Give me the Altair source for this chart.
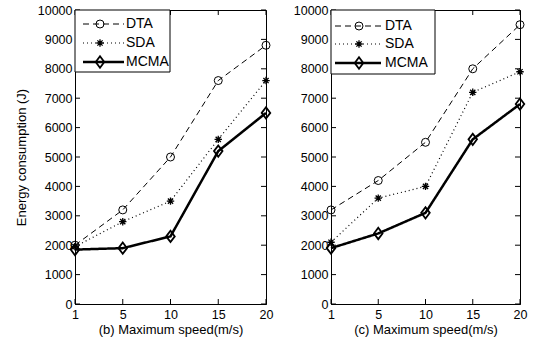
import altair as alt
import pandas as pd

speeds = [1, 5, 10, 15, 20]
series_names = ["DTA", "SDA", "MCMA"]

b_dta = [2000, 3200, 5000, 7600, 8800]
b_sda = [1950, 2800, 3500, 5600, 7600]
b_mcma = [1850, 1900, 2300, 5200, 6500]

c_dta = [3200, 4200, 5500, 8000, 9500]
c_sda = [2100, 3600, 4000, 7200, 7900]
c_mcma = [1900, 2400, 3100, 5600, 6800]

y_ticks = [0, 1000, 2000, 3000, 4000, 5000, 6000, 7000, 8000, 9000, 10000]

FONT = "Arial"
ASTERISK = "M -1 0 L 1 0 M 0 -1 L 0 1 M -0.7 -0.7 L 0.7 0.7 M -0.7 0.7 L 0.7 -0.7"
DIAMOND = "M -0.75 0 L 0 -1 L 0.75 0 L 0 1 Z"

STYLE = {
    "DTA": dict(dash=[6, 4], width=1, shape="circle", size=64, sw=1),
    "SDA": dict(dash=[1, 3], width=1.2, shape=ASTERISK, size=55, sw=1.3),
    "MCMA": dict(dash=[1, 0], width=2.5, shape=DIAMOND, size=130, sw=1.8),
}


def panel(values, title, ytitle, W, H, leg):
    xscale = alt.Scale(type="point", padding=0)
    yscale = alt.Scale(domain=[0, 10000], nice=False)
    axis_common = dict(
        ticks=False, domainColor="black", domainWidth=1, labelColor="black",
        labelFont=FONT, labelFontSize=12.5, titleFont=FONT, titleFontSize=13,
        titleFontWeight="normal", titleColor="black", grid=False,
    )
    xaxis = alt.Axis(title=title, labelAngle=0, labelPadding=4, titlePadding=3, **axis_common)
    if ytitle:
        yaxis = alt.Axis(values=y_ticks, format="d", title=ytitle, labelPadding=3, titlePadding=9, **axis_common)
    else:
        yaxis = alt.Axis(values=y_ticks, format="d", title=None, labelPadding=3, **axis_common)

    layers = []
    for name, vals in zip(series_names, values):
        st = STYLE[name]
        df = pd.DataFrame({"speed": speeds, "energy": vals})
        base = alt.Chart(df)
        enc = dict(
            x=alt.X("speed:O", scale=xscale, axis=xaxis),
            y=alt.Y("energy:Q", scale=yscale, axis=yaxis),
        )
        layers.append(base.mark_line(color="black", strokeWidth=st["width"], strokeDash=st["dash"]).encode(**enc))
        layers.append(base.mark_point(shape=st["shape"], size=st["size"], filled=False, color="black",
                                      strokeWidth=st["sw"], opacity=1).encode(**enc))

    ydf = pd.DataFrame({"energy": y_ticks})
    xdf = pd.DataFrame({"speed": speeds})
    tl = 5
    layers.append(alt.Chart(ydf).mark_rule(color="black", strokeWidth=1).encode(
        y=alt.Y("energy:Q", scale=yscale, axis=yaxis), x=alt.value(0), x2=alt.value(tl)))
    layers.append(alt.Chart(ydf).mark_rule(color="black", strokeWidth=1).encode(
        y=alt.Y("energy:Q", scale=yscale, axis=yaxis), x=alt.value(W - tl), x2=alt.value(W)))
    layers.append(alt.Chart(xdf).mark_rule(color="black", strokeWidth=1).encode(
        x=alt.X("speed:O", scale=xscale, axis=xaxis), y=alt.value(H - tl), y2=alt.value(H)))
    layers.append(alt.Chart(xdf).mark_rule(color="black", strokeWidth=1).encode(
        x=alt.X("speed:O", scale=xscale, axis=xaxis), y=alt.value(0), y2=alt.value(tl)))

    one = pd.DataFrame({"a": [0]})
    layers.append(alt.Chart(one).mark_rect(fill="white", stroke="black", strokeWidth=1).encode(
        x=alt.value(0), x2=alt.value(leg["w"]), y=alt.value(0), y2=alt.value(leg["h"])))
    for name, ry in zip(series_names, leg["rows"]):
        st = STYLE[name]
        layers.append(alt.Chart(one).mark_rule(color="black", strokeWidth=st["width"], strokeDash=st["dash"]).encode(
            x=alt.value(leg["l0"]), x2=alt.value(leg["l1"]), y=alt.value(ry)))
        layers.append(alt.Chart(one).mark_point(shape=st["shape"], size=st["size"], filled=False, color="black",
                                                strokeWidth=st["sw"], opacity=1).encode(
            x=alt.value(leg["m"]), y=alt.value(ry)))
        layers.append(alt.Chart(pd.DataFrame({"label": [name]})).mark_text(
            align="left", baseline="middle", font=FONT, fontSize=14, color="black").encode(
            x=alt.value(leg["t"]), y=alt.value(ry), text="label:N"))

    return alt.layer(*layers).properties(width=W, height=H)


leg_b = dict(w=95, h=62, rows=[14, 33, 52], l0=8, l1=49, m=25, t=51)
leg_c = dict(w=104, h=64, rows=[16, 34, 53], l0=4, l1=50, m=28, t=54)

left = panel([b_dta, b_sda, b_mcma], "(b) Maximum speed(m/s)", "Energy consumption (J)", 191, 294, leg_b)
right = panel([c_dta, c_sda, c_mcma], "(c) Maximum speed(m/s)", None, 189, 294, leg_c)

chart = alt.hconcat(left, right, spacing=17).properties(
    padding={"left": 14, "top": 3, "right": 5, "bottom": 0},
    background="white",
).configure_view(stroke="black", strokeWidth=1)

chart.save("out.html", embed_options={"renderer": "svg", "actions": False})
